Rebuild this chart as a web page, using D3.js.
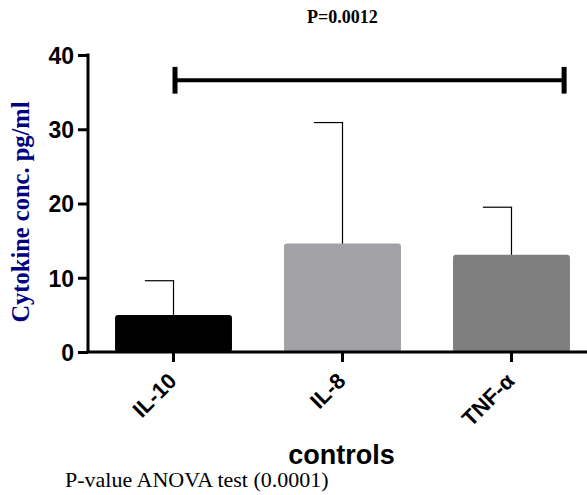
<!DOCTYPE html>
<html><head><meta charset="utf-8">
<script src="https://cdn.jsdelivr.net/npm/d3@7"></script>
<style>body{margin:0;background:#fff;} svg{display:block;}</style>
</head><body>
<script>
const categories = ["IL-10", "IL-8", "TNF-\u03b1"];
const means = [5.0, 14.6, 13.1];
const sdUpper = [9.6, 30.9, 19.5];
const barColors = ["#000000", "#a2a1a6", "#7f7f7f"];
const yTicks = [0, 10, 20, 30, 40];
const sigValue = 36.6;
const sigLabel = "P=0.0012";
const xTitle = "controls";
const yTitle = "Cytokine conc. pg/ml";
const footnote = "P-value ANOVA test (0.0001)";

const W = 587, H = 495;
const svg = d3.select("body").append("svg").attr("width", W).attr("height", H);

const x = d3.scaleBand().domain(categories).range([88, 597]).paddingInner(0.308).paddingOuter(0.16);
const y = d3.scaleLinear().domain([0, 40]).range([352, 55]);
const bw = x.bandwidth();

// bars
svg.selectAll("rect.bar").data(categories).enter().append("rect")
  .attr("x", d => x(d)).attr("width", bw)
  .attr("y", (d, i) => y(means[i])).attr("height", (d, i) => y(0) - y(means[i]))
  .attr("rx", 3).attr("ry", 3)
  .attr("fill", (d, i) => barColors[i]);

// error bars (upper, half caps)
categories.forEach((c, i) => {
  const cx = x(c) + bw / 2;
  svg.append("line").attr("x1", cx).attr("x2", cx).attr("y1", y(means[i])).attr("y2", y(sdUpper[i]))
    .attr("stroke", "#000").attr("stroke-width", 1.2);
  svg.append("line").attr("x1", cx - bw * 0.245).attr("x2", cx + 0.6).attr("y1", y(sdUpper[i])).attr("y2", y(sdUpper[i]))
    .attr("stroke", "#000").attr("stroke-width", 1.2);
});

// y axis
const yAxis = d3.axisLeft(y).tickValues(yTicks).tickSize(10).tickSizeOuter(0).tickPadding(4);
const gy = svg.append("g").attr("transform", "translate(88,0)").call(yAxis);
gy.select(".domain").attr("stroke", "#000").attr("stroke-width", 3).attr("d", `M0,${y(40)-1.5}V${y(0)}`);
gy.selectAll(".tick line").attr("stroke", "#000").attr("stroke-width", 3);
gy.selectAll(".tick text").attr("font-family", "Liberation Sans, Arial, sans-serif").attr("font-weight", "bold")
  .attr("font-size", 23).attr("fill", "#000").attr("dy", "0.36em");

// x axis
const xAxis = d3.axisBottom(x).tickSize(10).tickSizeOuter(0).tickPadding(4);
const gx = svg.append("g").attr("transform", `translate(0,${y(0)})`).call(xAxis);
gx.select(".domain").attr("stroke", "#000").attr("stroke-width", 3).attr("d", `M86.5,0H${W}`);
gx.selectAll(".tick line").attr("stroke", "#000").attr("stroke-width", 3);
gx.selectAll(".tick text").attr("font-family", "Liberation Sans, Arial, sans-serif").attr("font-weight", "bold")
  .attr("font-size", 22).attr("fill", "#000")
  .attr("text-anchor", "end").attr("x", 0).attr("y", 0).attr("dy", "0.35em")
  .attr("transform", "translate(-1,25) rotate(-45)");

// significance bar
const sx1 = x(categories[0]) + bw / 2 + 1.5;
const sx2 = x(categories[2]) + bw * 0.95;
const sy = y(sigValue);
svg.append("line").attr("x1", sx1).attr("x2", sx2).attr("y1", sy).attr("y2", sy).attr("stroke", "#000").attr("stroke-width", 4);
[sx1, sx2].forEach(sx => {
  svg.append("line").attr("x1", sx).attr("x2", sx).attr("y1", y(sigValue + 1.8)).attr("y2", y(sigValue - 1.8))
    .attr("stroke", "#000").attr("stroke-width", 5);
});
svg.append("text").attr("x", x(categories[1]) + bw / 2).attr("y", 23).attr("text-anchor", "middle")
  .attr("font-family", "Liberation Serif, Times New Roman, serif").attr("font-weight", "bold").attr("font-size", 18)
  .text(sigLabel);

// axis titles
svg.append("text").attr("x", x(categories[1]) + bw / 2 - 1).attr("y", 464).attr("text-anchor", "middle")
  .attr("font-family", "Liberation Sans, Arial, sans-serif").attr("font-weight", "bold").attr("font-size", 27)
  .text(xTitle);
svg.append("text").attr("transform", "translate(29,212) rotate(-90)").attr("text-anchor", "middle")
  .attr("font-family", "Liberation Serif, Times New Roman, serif").attr("font-weight", "bold").attr("font-size", 24.5)
  .attr("fill", "#000080").text(yTitle);

// footnote
svg.append("text").attr("x", 65).attr("y", 487)
  .attr("font-family", "Liberation Serif, Times New Roman, serif").attr("font-size", 22).attr("fill", "#000")
  .text(footnote);
</script>
</body></html>
